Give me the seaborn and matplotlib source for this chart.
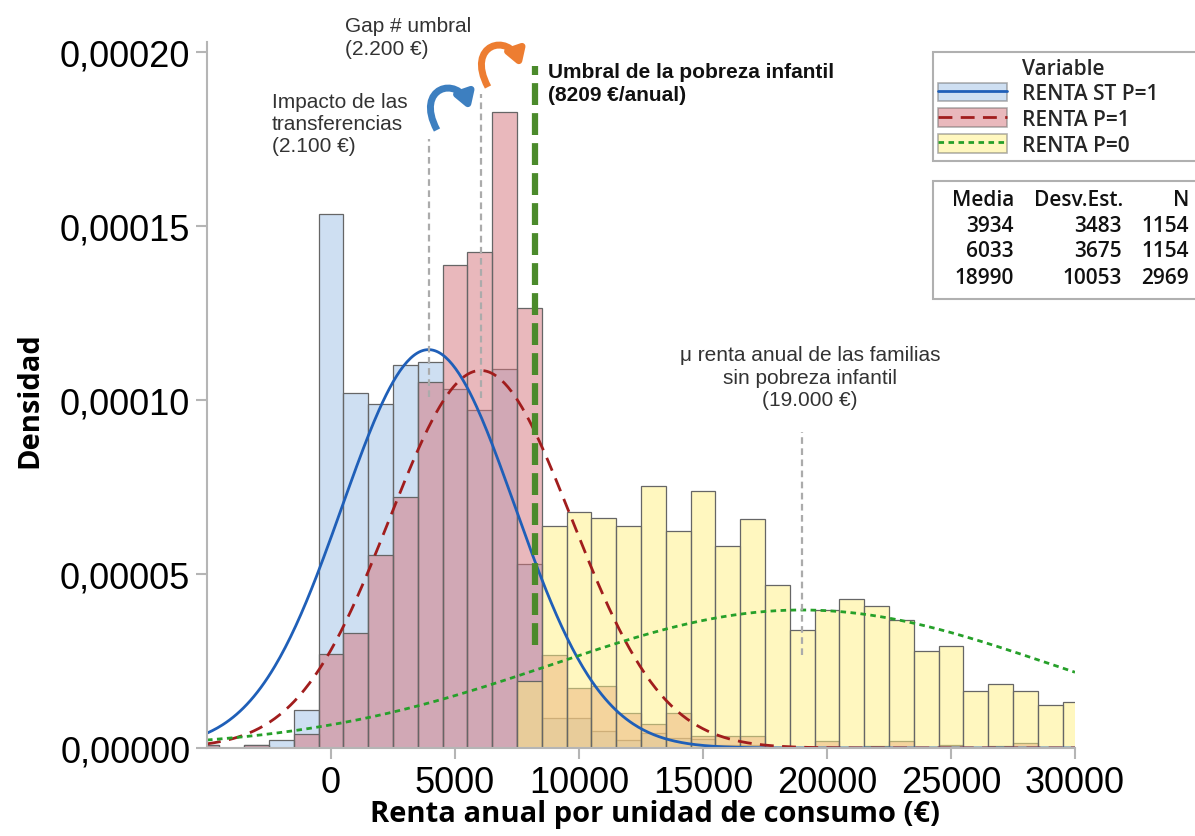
import numpy as np
import pandas as pd
import matplotlib
matplotlib.use('Agg')
import matplotlib.pyplot as plt
import seaborn as sns
from matplotlib.patches import Patch, Rectangle, FancyArrowPatch
from matplotlib.lines import Line2D
from matplotlib.path import Path
from matplotlib.ticker import FuncFormatter

# bin centres (bin width 1000 €)
centros = [-5000, -4000, -3000, -2000, -1000, 0, 1000, 2000, 3000, 4000, 5000,
           6000, 7000, 8000, 9000, 10000, 11000, 12000, 13000, 14000, 15000,
           16000, 17000, 18000, 19000, 20000, 21000, 22000, 23000, 24000, 25000,
           26000, 27000, 28000, 29000, 30000]

# densities, in units of 1e-5
dens_st_p1 = [0.09, 0, 0.09, 0.23, 1.10, 15.36, 10.22, 9.89, 11.02, 11.11, 10.33,
              9.72, 10.89, 5.29, 0.85, 0.85, 0.50, 0.24, 0.43, 0.30, 0.26,
              0.10, 0.09, 0, 0, 0, 0, 0, 0, 0, 0,
              0, 0, 0, 0, 0]
dens_p1 = [0.09, 0, 0.09, 0, 0.40, 2.69, 3.31, 5.56, 7.21, 10.52, 13.90,
           14.26, 18.29, 12.65, 2.68, 1.72, 1.79, 1.02, 0.69, 1.02, 0.34,
           0.34, 0.34, 0, 0, 0.21, 0, 0.07, 0.21, 0, 0.09,
           0, 0.07, 0.14, 0, 0]
dens_p0 = [0, 0, 0, 0, 0, 0, 0, 0, 0, 0, 0,
           0, 0, 1.93, 6.39, 6.80, 6.61, 6.39, 7.52, 6.23, 7.39,
           5.81, 6.58, 4.69, 3.40, 3.98, 4.28, 4.07, 3.69, 2.80, 2.92,
           1.63, 1.84, 1.65, 1.23, 1.32]

variables = ['RENTA ST P=1', 'RENTA P=1', 'RENTA P=0']
media = [3934, 6033, 18990]
desv = [3483, 3675, 10053]
n_obs = [1154, 1154, 2969]
umbral = 8209

colores_barra = ['#9ec1e6', '#d5737a', '#fff080']
colores_linea = ['#1f5fb8', '#a11d1d', '#26a02a']
estilos = ['-', (0, (5, 3)), (0, (2, 1.6))]

sns.set_style('white')
plt.rcParams['font.family'] = ['Liberation Sans', 'DejaVu Sans']

fig = plt.figure(figsize=(11.95, 8.37), dpi=100)
W, H = 1195, 837
ax = fig.add_axes([207 / W, 1 - 749 / H, (1075 - 207) / W, (749 - 43) / H])

for i, dens in enumerate([dens_st_p1, dens_p1, dens_p0]):
    df = pd.DataFrame({'x': centros, 'w': np.array(dens) * 1e-5})
    df = df[df['w'] > 0]
    sns.histplot(data=df, x='x', weights='w', binwidth=1000, binrange=(-5500, 30500),
                 stat='count', color=colores_barra[i], alpha=0.5,
                 edgecolor='#666666', linewidth=0.9, ax=ax)

xs = np.linspace(-5000, 30000, 500)
for i in range(3):
    ys = np.exp(-0.5 * ((xs - media[i]) / desv[i]) ** 2) / (desv[i] * np.sqrt(2 * np.pi))
    sns.lineplot(x=xs, y=ys, color=colores_linea[i], linestyle=estilos[i], lw=2, ax=ax)

# reference lines
ax.vlines(media[0], 10.1e-5, 17.5e-5, color='#ababab', lw=1.6, linestyles=(0, (3, 2)))
ax.vlines(media[1], 10.05e-5, 18.8e-5, color='#ababab', lw=1.6, linestyles=(0, (3, 2)))
ax.vlines(media[2], 2.67e-5, 9.1e-5, color='#ababab', lw=1.6, linestyles=(0, (3, 2)))
ax.vlines(umbral, 2.96e-5, 19.6e-5, color='#4b8a2b', lw=4.5, linestyles=(0, (3.5, 1.3)))

ax.set_xlim(-5000, 30000)
ax.set_ylim(0, 0.000203)
ax.set_xticks([0, 5000, 10000, 15000, 20000, 25000, 30000])
ax.set_yticks([0, 0.00005, 0.0001, 0.00015, 0.0002])
ax.yaxis.set_major_formatter(FuncFormatter(lambda v, p: f'{v:.5f}'.replace('.', ',')))
ax.xaxis.set_major_formatter(FuncFormatter(lambda v, p: f'{v:.0f}'))
ax.tick_params(axis='both', labelsize=26, length=8, width=1.5, color='#b5b5b5',
               labelcolor='black', direction='out', pad=4)
ax.tick_params(axis='both', left=True, bottom=True)
for s in ['top', 'right']:
    ax.spines[s].set_visible(False)
for s in ['left', 'bottom']:
    ax.spines[s].set_color('#b5b5b5')
    ax.spines[s].set_linewidth(1.5)
ax.set_xlabel('')
ax.set_ylabel('')

fig.text(30 / W, 1 - 400 / H, 'Densidad', rotation=90, ha='center', va='center',
         fontsize=21, fontweight='bold', color='black', family=['Open Sans', 'DejaVu Sans'])
fig.text(655 / W, 1 - 815 / H, 'Renta anual por unidad de consumo (€)', ha='center',
         va='center', fontsize=21, fontweight='bold', color='black',
         family=['Open Sans', 'DejaVu Sans'])

# annotations
txt_kw = dict(fontsize=15, color='#333333', transform=fig.transFigure)
fig.text(345 / W, 1 - 38 / H, 'Gap # umbral\n(2.200 €)', ha='left', va='center',
         linespacing=1.3, **txt_kw)
fig.text(272 / W, 1 - 125 / H, 'Impacto de las\ntransferencias\n(2.100 €)', ha='left',
         va='center', linespacing=1.2, **txt_kw)
fig.text(810 / W, 1 - 378 / H, 'μ renta anual de las familias\nsin pobreza infantil\n(19.000 €)',
         ha='center', va='center', linespacing=1.25, **txt_kw)
fig.text(548 / W, 1 - 84 / H, 'Umbral de la pobreza infantil\n(8209 €/anual)', ha='left',
         va='center', fontsize=15, fontweight='bold', color='#111111', linespacing=1.3)


def flecha(dx, dy, color):
    # hook-shaped arrow, pixel positions measured on the picture
    pts = [(437, 131), (414, 88), (458, 76), (470, 111)]
    verts = [((x + dx) / W, 1 - (y + dy) / H) for x, y in pts]
    camino = Path(verts, [Path.MOVETO, Path.CURVE4, Path.CURVE4, Path.CURVE4])
    a = FancyArrowPatch(path=camino, transform=fig.transFigure,
                        arrowstyle='-|>,head_length=0.9,head_width=0.55',
                        mutation_scale=10, lw=5, color=color, capstyle='butt')
    fig.add_artist(a)


flecha(0, 0, '#3d7fc0')
flecha(51, -43, '#ed7d31')

# legend
handles = [Line2D([], [], linestyle='none')]
labels = ['Variable']
for i in range(3):
    p = Patch(facecolor=colores_barra[i], alpha=0.5, edgecolor='#666666', lw=1.2)
    l = Line2D([], [], color=colores_linea[i], linestyle=estilos[i], lw=2)
    handles.append((p, l))
    labels.append(variables[i])
leg = fig.legend(handles, labels, loc='upper left',
                 bbox_to_anchor=(933 / W, 1 - 173 / H, 300 / W, 120 / H), mode='expand',
                 frameon=True, fancybox=False, edgecolor='#b0b0b0', framealpha=1,
                 prop={'family': 'Open Sans', 'size': 15, 'weight': 'semibold'},
                 handlelength=3.3, handleheight=1.0, labelspacing=0.2, borderpad=0.25,
                 handletextpad=0.7, borderaxespad=0)
leg.get_frame().set_linewidth(1.5)

# stats table
fig.add_artist(Rectangle((933 / W, 1 - 300 / H), 270 / W, 118 / H, transform=fig.transFigure,
                         facecolor='white', edgecolor='#b0b0b0', lw=1.5))
tab_kw = dict(ha='right', va='center', fontsize=15, family=['Open Sans', 'DejaVu Sans'],
              fontweight='semibold', color='#111111')
fig.text(1014 / W, 1 - 200 / H, 'Media', **tab_kw)
fig.text(1123 / W, 1 - 200 / H, 'Desv.Est.', **tab_kw)
fig.text(1189 / W, 1 - 200 / H, 'N', **tab_kw)
for i, yy in enumerate([226, 252, 279]):
    fig.text(1014 / W, 1 - yy / H, str(media[i]), **tab_kw)
    fig.text(1122 / W, 1 - yy / H, str(desv[i]), **tab_kw)
    fig.text(1189 / W, 1 - yy / H, str(n_obs[i]), **tab_kw)

fig.savefig('out.png', dpi=100)
